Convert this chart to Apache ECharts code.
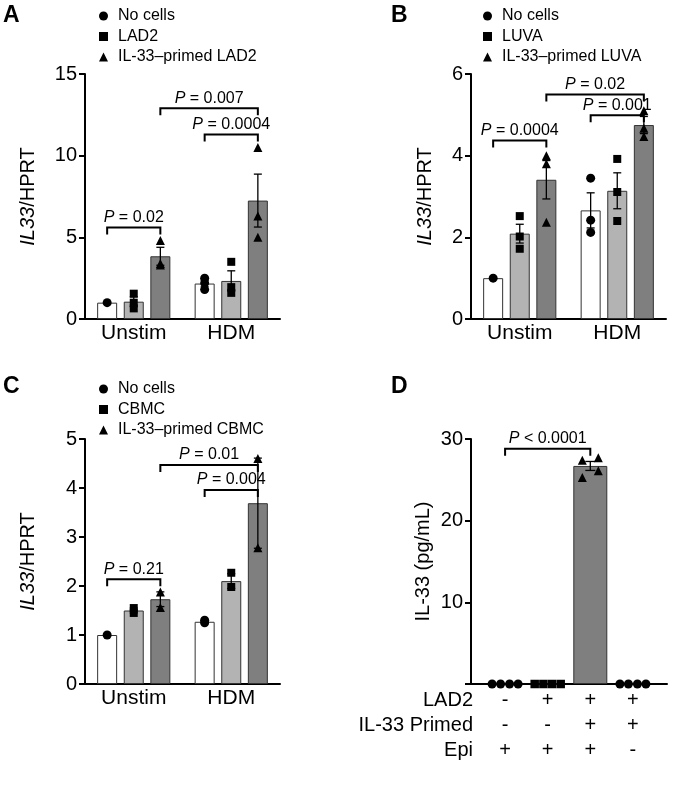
<!DOCTYPE html>
<html><head><meta charset="utf-8">
<script src="https://cdn.jsdelivr.net/npm/echarts@6/dist/echarts.min.js"></script>
<style>html,body{margin:0;padding:0;background:#fff}#c{width:677px;height:791px}</style>
</head><body><div id="c"></div>
<script>
// ---------- DATA ----------
const categories = ['Unstim', 'HDM'];

// Panel A (LAD2)
const aNames = ['No cells', 'LAD2', 'IL-33–primed LAD2'];
const aMeanNoCells = [1.0, 2.17];
const aMeanCells = [1.06, 2.33];
const aMeanPrimed = [3.84, 7.25];
const aErrNoCells = [0, 0.2];
const aErrCells = [0.3, 0.62];
const aErrPrimed = [0.55, 1.62];
const aPtsNoCells = [[1.0], [2.5, 2.2, 1.8]];
const aPtsCells = [[1.55, 1.0, 0.65], [3.5, 1.95, 1.6]];
const aPtsPrimed = [[4.8, 3.4, 3.3], [10.5, 6.3, 5.0]];
const aBrackets = [[0, 0, 0, 2, 5.6], [0, 2, 1, 2, 12.9], [1, 0, 1, 2, 11.3]];
const aPLabels = ['= 0.02', '= 0.007', '= 0.0004'];
const aTicks = {min: 0, max: 15, interval: 5};

// Panel B (LUVA)
const bNames = ['No cells', 'LUVA', 'IL-33–primed LUVA'];
const bMeanNoCells = [1.0, 2.66];
const bMeanCells = [2.09, 3.14];
const bMeanPrimed = [3.41, 4.75];
const bErrNoCells = [0, 0.43];
const bErrCells = [0.23, 0.44];
const bErrPrimed = [0.47, 0.21];
const bPtsNoCells = [[1.0], [3.45, 2.42, 2.12]];
const bPtsCells = [[2.52, 2.02, 1.72], [3.92, 3.11, 2.4]];
const bPtsPrimed = [[4.0, 3.8, 2.37], [5.1, 4.67, 4.47]];
const bBrackets = [[0, 0, 0, 2, 4.37], [0, 2, 1, 2, 5.5], [1, 0, 1, 2, 4.99]];
const bPLabels = ['= 0.0004', '= 0.02', '= 0.001'];
const bTicks = {min: 0, max: 6, interval: 2};

// Panel C (CBMC)
const cNames = ['No cells', 'CBMC', 'IL-33–primed CBMC'];
const cMeanNoCells = [1.0, 1.27];
const cMeanCells = [1.5, 2.1];
const cMeanPrimed = [1.73, 3.69];
const cErrNoCells = [0, 0.03];
const cErrCells = [0.05, 0.15];
const cErrPrimed = [0.15, 0.92];
const cPtsNoCells = [[1.0], [1.3, 1.25]];
const cPtsCells = [[1.55, 1.45], [2.27, 1.98]];
const cPtsPrimed = [[1.88, 1.56], [4.6, 2.78]];
const cBrackets = [[0, 0, 0, 2, 2.14], [0, 2, 1, 2, 4.47], [1, 0, 1, 2, 3.96]];
const cPLabels = ['= 0.21', '= 0.01', '= 0.004'];
const cTicks = {min: 0, max: 5, interval: 1};

// Panel D (IL-33 protein)
const dMeans = [0, 0, 26.7, 0];
const dErr = [0, 0, 0.55, 0];
const dPts0 = [0, 0, 0, 0];
const dPts1 = [0, 0, 0, 0];
const dPts2 = [27.4, 27.7, 25.3, 26.1];
const dPts3 = [0, 0, 0, 0];
const dBrackets = [[0, 0, 2, 0, 28.8]];
const dPLabels = ['< 0.0001'];
const dTicks = {min: 0, max: 30, interval: 10};
const dRowLabels = ['LAD2', 'IL-33 Primed', 'Epi'];
const dRowLAD2 = ['-', '+', '+', '+'];
const dRowPrimed = ['-', '-', '+', '+'];
const dRowEpi = ['+', '+', '+', '-'];

// ---------- STYLE ----------
const FONT = "'Liberation Sans', Arial, Helvetica, sans-serif";
const BAR_W = 20, BAR_GAP = 0.33;
const STEP = BAR_W * (1 + BAR_GAP);
const BAR_COLORS = ['#ffffff', '#b3b3b3', '#7f7f7f'];
const SYMBOLS = ['circle', 'rect', 'triangle'];
const SYM_SIZE = [9, 8, 9];
const D_JITTER = [[-13, -4.5, 4.5, 13], [-13, -4.3, 4.3, 13], [-8, 8, -8, 8], [-13, -4.5, 4.5, 13]];

const grids = [
  {left: 85, top: 74, width: 195, height: 245},
  {left: 471, top: 74, width: 195, height: 245},
  {left: 85, top: 439, width: 195, height: 245},
  {left: 471, top: 439, width: 196, height: 245}
];

const axisLine = {show: true, onZero: false, lineStyle: {color: '#000', width: 2}};
const yNameRich = {i: {fontStyle: 'italic', fontSize: 20, fontFamily: FONT, color: '#000'}};

function yAxisCfg(gi, ticks, name, gap) {
  return {
    type: 'value', gridIndex: gi, min: ticks.min, max: ticks.max, interval: ticks.interval,
    axisLine: axisLine, axisTick: {show: true, length: 6, lineStyle: {color: '#000', width: 2}},
    splitLine: {show: false},
    axisLabel: {fontSize: 20, color: '#000', fontFamily: FONT, margin: 8,
      formatter: gi === 3 ? (v => v === 0 ? '' : String(v)) : (v => String(v))},
    name: name, nameLocation: 'middle', nameRotate: 90, nameGap: gap,
    nameTextStyle: {fontSize: 20, color: '#000', fontFamily: FONT, rich: yNameRich}
  };
}
function xCatCfg(gi) {
  return {
    type: 'category', gridIndex: gi, data: categories, boundaryGap: true,
    axisLine: axisLine, axisTick: {show: false}, splitLine: {show: false},
    axisLabel: {fontSize: 21, color: '#000', fontFamily: FONT, margin: 4}
  };
}

function errRenderer(step, capW) {
  return function (params, api) {
    const cat = api.value(0), g = api.value(1), m = api.value(2), e = api.value(3);
    if (!e) return null;
    const off = (g - 1) * step;
    const t = api.coord([cat, m + e]), b = api.coord([cat, m - e]);
    const x = t[0] + off;
    const st = {stroke: '#000', lineWidth: 1.3};
    return {type: 'group', children: [
      {type: 'line', shape: {x1: x, y1: t[1], x2: x, y2: b[1]}, style: st},
      {type: 'line', shape: {x1: x - capW / 2, y1: t[1], x2: x + capW / 2, y2: t[1]}, style: st},
      {type: 'line', shape: {x1: x - capW / 2, y1: b[1], x2: x + capW / 2, y2: b[1]}, style: st}
    ]};
  };
}
function bracketRenderer(step, labels) {
  return function (params, api) {
    const c1 = api.value(0), g1 = api.value(1), c2 = api.value(2), g2 = api.value(3), y = api.value(4);
    const p1 = api.coord([c1, y]), p2 = api.coord([c2, y]);
    const x1 = p1[0] + (g1 - 1) * step, x2 = p2[0] + (g2 - 1) * step;
    const yy = p1[1];
    return {type: 'group', children: [
      {type: 'polyline', shape: {points: [[x1, yy + 7], [x1, yy], [x2, yy], [x2, yy + 7]]},
        style: {stroke: '#000', lineWidth: 2, fill: null}},
      {type: 'text', style: {text: '{i|P} ' + labels[params.dataIndex], x: (x1 + x2) / 2, y: yy - 2,
        align: 'center', verticalAlign: 'bottom', fontSize: 16, fontFamily: FONT, fill: '#000',
        rich: {i: {fontStyle: 'italic', fontSize: 16, fontFamily: FONT, fill: '#000'}}}}
    ]};
  };
}

const series = [];
function addPanel(gi, names, means, errs, pts, brackets, labels) {
  for (let g = 0; g < 3; g++) {
    series.push({type: 'bar', name: 'bar-' + gi + '-' + g, xAxisIndex: gi, yAxisIndex: gi,
      barWidth: BAR_W, barGap: (BAR_GAP * 100) + '%', data: means[g],
      itemStyle: {color: BAR_COLORS[g], borderColor: '#333', borderWidth: 1}, z: 2, silent: true});
  }
  const errData = [];
  for (let g = 0; g < 3; g++) for (let i = 0; i < categories.length; i++) errData.push([i, g, means[g][i], errs[g][i]]);
  series.push({type: 'custom', xAxisIndex: gi, yAxisIndex: gi, renderItem: errRenderer(STEP, 8),
    data: errData, encode: {x: 0, y: 2}, z: 3, silent: true});
  for (let g = 0; g < 3; g++) {
    const d = [];
    pts[g].forEach((arr, i) => arr.forEach(v => d.push([i, v])));
    series.push({type: 'scatter', name: names[g], xAxisIndex: gi, yAxisIndex: gi, symbol: SYMBOLS[g],
      symbolSize: SYM_SIZE[g], symbolOffset: [(g - 1) * STEP, 0], itemStyle: {color: '#000', opacity: 1},
      data: d, z: 4, silent: true});
  }
  series.push({type: 'custom', xAxisIndex: gi, yAxisIndex: gi, renderItem: bracketRenderer(STEP, labels),
    data: brackets, encode: {x: 0, y: 4}, z: 5, silent: true});
}

addPanel(0, aNames, [aMeanNoCells, aMeanCells, aMeanPrimed], [aErrNoCells, aErrCells, aErrPrimed],
  [aPtsNoCells, aPtsCells, aPtsPrimed], aBrackets, aPLabels);
addPanel(1, bNames, [bMeanNoCells, bMeanCells, bMeanPrimed], [bErrNoCells, bErrCells, bErrPrimed],
  [bPtsNoCells, bPtsCells, bPtsPrimed], bBrackets, bPLabels);
addPanel(2, cNames, [cMeanNoCells, cMeanCells, cMeanPrimed], [cErrNoCells, cErrCells, cErrPrimed],
  [cPtsNoCells, cPtsCells, cPtsPrimed], cBrackets, cPLabels);

// Panel D
series.push({type: 'bar', name: 'bar-D', xAxisIndex: 3, yAxisIndex: 3, barWidth: 34,
  data: dMeans.map((v, i) => [i, v]), itemStyle: {color: '#7f7f7f', borderColor: '#333', borderWidth: 1}, z: 2, silent: true});
series.push({type: 'custom', xAxisIndex: 3, yAxisIndex: 3, renderItem: errRenderer(0, 10),
  data: dMeans.map((v, i) => [i, 1, v, dErr[i]]), encode: {x: 0, y: 2}, z: 3, silent: true});
const dPts = [dPts0, dPts1, dPts2, dPts3];
const dSyms = ['circle', 'rect', 'triangle', 'circle'];
dPts.forEach((arr, i) => {
  series.push({type: 'scatter', name: 'D-pts-' + i, xAxisIndex: 3, yAxisIndex: 3, symbol: dSyms[i],
    symbolSize: dSyms[i] === 'rect' ? 8.5 : 9, itemStyle: {color: '#000', opacity: 1}, z: 4, silent: true,
    data: arr.map((v, k) => ({value: [i, v], symbolOffset: [D_JITTER[i][k], 0]}))});
});
series.push({type: 'custom', xAxisIndex: 3, yAxisIndex: 3, renderItem: bracketRenderer(0, dPLabels),
  data: dBrackets, encode: {x: 0, y: 4}, z: 5, silent: true});

const dRows = [dRowLAD2, dRowPrimed, dRowEpi];

function legendCfg(left, top, names) {
  return {left: left, top: top, orient: 'vertical', padding: 0, itemGap: 4.5, itemWidth: 9, itemHeight: 9,
    selectedMode: false, data: names,
    textStyle: {fontSize: 16, color: '#000', fontFamily: FONT, padding: [0, 0, 0, 5]}};
}

const option = {
  animation: false,
  backgroundColor: '#fff',
  grid: grids,
  xAxis: [xCatCfg(0), xCatCfg(1), xCatCfg(2), {
    type: 'value', gridIndex: 3, min: -0.8, max: 3.8,
    axisLine: axisLine, axisTick: {show: false}, splitLine: {show: false},
    axisLabel: {customValues: [0, 1, 2, 3], fontSize: 20, color: '#000', fontFamily: FONT, margin: 4, lineHeight: 25,
      formatter: v => dRows.map(r => r[Math.round(v)]).join('\n')}
  }],
  yAxis: [
    yAxisCfg(0, aTicks, '{i|IL33}/HPRT', 47),
    yAxisCfg(1, bTicks, '{i|IL33}/HPRT', 36),
    yAxisCfg(2, cTicks, '{i|IL33}/HPRT', 47),
    yAxisCfg(3, dTicks, 'IL-33 (pg/mL)', 38)
  ],
  legend: [legendCfg(99, 8, aNames), legendCfg(483, 8, bNames), legendCfg(99, 381, cNames)],
  graphic: [
    {type: 'text', left: 3, top: 4, style: {text: 'A', font: 'bold 23px ' + FONT, fill: '#000'}},
    {type: 'text', left: 391, top: 4, style: {text: 'B', font: 'bold 23px ' + FONT, fill: '#000'}},
    {type: 'text', left: 3, top: 375, style: {text: 'C', font: 'bold 23px ' + FONT, fill: '#000'}},
    {type: 'text', left: 391, top: 375, style: {text: 'D', font: 'bold 23px ' + FONT, fill: '#000'}}
  ].concat(dRowLabels.map((t, k) => ({type: 'text', x: 473, y: 700 + k * 25,
    style: {text: t, fontSize: 20, fontFamily: FONT, fill: '#000', align: 'right', verticalAlign: 'middle'}}))),
  series: series
};

const chart = echarts.init(document.getElementById('c'), null, {renderer: 'canvas'});
chart.setOption(option);
</script></body></html>
